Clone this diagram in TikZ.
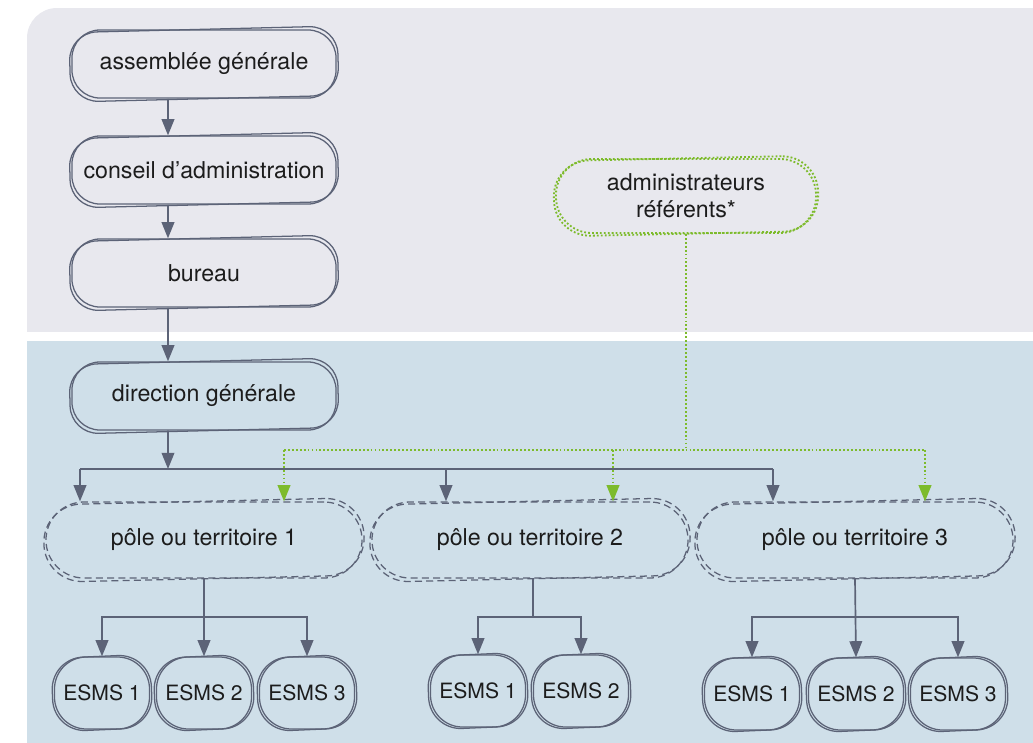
\documentclass[tikz,border=0pt]{standalone}
\usepackage{fontspec}
\setmainfont{TeX Gyre Heros}
\usetikzlibrary{arrows.meta}
\definecolor{linec}{HTML}{5C6377}
\definecolor{greenc}{HTML}{7DBB2C}
\definecolor{topbg}{HTML}{E8E8EE}
\definecolor{botbg}{HTML}{CFDFE9}
\definecolor{txtc}{HTML}{1C1C1C}

\begin{document}
\begin{tikzpicture}[x=0.025cm, y=-0.025cm,
  every node/.style={font=\fontsize{16.5}{19.5}\selectfont, text=txtc},
  solidline/.style={draw=linec, line width=0.9pt},
  dashline/.style={draw=linec, line width=0.9pt, dash pattern=on 5pt off 3pt},
  dotline/.style={draw=greenc, line width=1.3pt, dash pattern=on 1.3pt off 1.5pt},
  sketch/.style n args={5}{#4, minimum width=#1, minimum height=#2, rounded corners=#3, inner sep=0pt, align=center,
    append after command={node[#4, minimum width=#1+3pt, minimum height=#2+1pt, rounded corners=#3, inner sep=0pt, rotate=#5] at (\tikzlastnode.center) {}}},
  unit/.style={sketch={6.6cm}{1.7cm}{0.7cm}{solidline}{1.4}},
  referent/.style={sketch={6.5cm}{1.85cm}{0.9cm}{dotline}{1.2}},
  pole/.style={sketch={7.9cm}{1.9cm}{0.95cm}{dashline}{1.3}},
  esms/.style={sketch={2.375cm}{1.8cm}{0.8cm}{solidline}{2.5}, font=\fontsize{15}{18}\selectfont},
  link/.style={draw=linec, line width=1.2pt},
  conn/.style={link, -{Triangle[length=11.5pt, width=9pt]}},
  glink/.style={dotline},
  gconn/.style={dotline, -{Triangle[length=11.5pt, width=9pt, fill=greenc]}}
]
\useasboundingbox (0,0) rectangle (1033,743);
% background panels
\begin{scope}
  \clip (0,0) rectangle (1033,331);
  \fill[topbg, rounded corners=0.75cm] (27,8) rectangle (1100,400);
\end{scope}
\fill[botbg] (27,341) rectangle (1033,743);

% governance
\node[unit] (ag) at (204,64) {assemblée générale};
\node[unit] (ca) at (204,170) {conseil d’administration};
\node[unit] (bu) at (204,273) {bureau};
\node[unit] (dg) at (204,396) {direction générale};
\node[referent] (ar) at (686,196) {administrateurs\\référents*};

% poles
\node[pole] (p1) at (204,540) {pôle ou territoire 1};
\node[pole] (p2) at (530,540) {pôle ou territoire 2};
\node[pole] (p3) at (855,540) {pôle ou territoire 3};

% establishments
\node[esms] (e11) at (102,693) {ESMS 1};
\node[esms] (e12) at (204,693) {ESMS 2};
\node[esms] (e13) at (307,693) {ESMS 3};
\node[esms] (e21) at (478,691) {ESMS 1};
\node[esms] (e22) at (581,691) {ESMS 2};
\node[esms] (e31) at (752,694) {ESMS 1};
\node[esms] (e32) at (856,694) {ESMS 2};
\node[esms] (e33) at (958,694) {ESMS 3};

% vertical chain
\draw[conn] ([xshift=-0.9cm]ag.south) -- ([xshift=-0.9cm]ca.north);
\draw[conn] ([xshift=-0.9cm]ca.south) -- ([xshift=-0.9cm]bu.north);
\draw[conn] ([xshift=-0.9cm]bu.south) -- ([xshift=-0.9cm]dg.north);

% bus to poles
\coordinate (bus) at (168,469);
\coordinate (bl) at (80,469);
\coordinate (bm) at (446,469);
\coordinate (br) at (773,469);
\draw[conn] ([xshift=-0.9cm]dg.south) -- (bus);
\draw[link] (bl) -- (br);
\draw[conn] (bl) -- (bl |- p1.north);
\draw[conn] (bm) -- (bm |- p2.north);
\draw[conn] (br) -- (br |- p3.north);

% referents
\coordinate (gl) at (284,450);
\coordinate (gm) at (613,450);
\coordinate (gr) at (925,450);
\draw[glink] (ar.south) -- (ar.south |- gl);
\draw[glink] (gl) -- (gr);
\draw[gconn] (gl) -- (gl |- p1.north);
\draw[gconn] (gm) -- (gm |- p2.north);
\draw[gconn] (gr) -- (gr |- p3.north);

% poles to establishments
\coordinate (k1) at (204,617);
\coordinate (k2) at (533,617);
\coordinate (k3) at (858,617);
\draw[conn] (p1.south) -- (e12.north);
\draw[conn] (k1) -| (e11.north);
\draw[conn] (k1) -| (e13.north);
\draw[link] (k2 |- p2.south) -- (k2);
\draw[conn] (k2) -| (e21.north);
\draw[conn] (k2) -| (e22.north);
\draw[conn] (p3.south) -- (e32.north);
\draw[conn] (k3) -| (e31.north);
\draw[conn] (k3) -| (e33.north);
\end{tikzpicture}
\end{document}
